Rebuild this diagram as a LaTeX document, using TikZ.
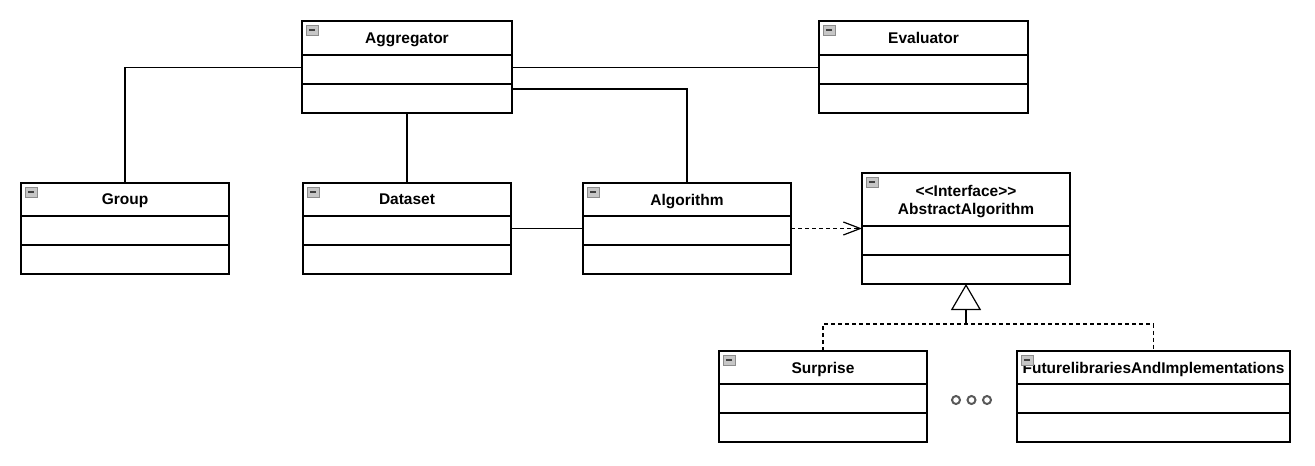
\documentclass[tikz,border=0pt]{standalone}
\usepackage{fontspec}
\setmainfont{Liberation Sans}
\usetikzlibrary{positioning,arrows.meta,calc}

\tikzset{
	classhead/.style={draw, line width=1.2pt, inner sep=0pt, outer sep=0pt, align=center, text depth=0pt,
		font=\fontsize{15.5}{18}\selectfont\bfseries},
	classpart/.style={draw, line width=1.2pt, inner sep=0pt, outer sep=0pt, minimum height=29pt},
	classicon/.style={draw=gray!90, fill=gray!45, line width=0.9pt},
	assoc/.style={line width=1.2pt},
	realize/.style={line width=1.2pt, dash pattern=on 4pt off 3pt},
	depend/.style={realize, -{Straight Barb[length=17pt, width=13pt, line width=1.2pt]}},
	moredots/.style={draw=black!65, line width=2pt}
}

\begin{document}
\begin{tikzpicture}[x=1pt, y=-1pt]
	\useasboundingbox (0,0) rectangle (1315,466);
	\newcommand{\CLASS}[5]{%
		\node[classhead, minimum width=#3, minimum height=#4, anchor=north west] (#1) at (#2) {#5};
		\node[classpart, minimum width=#3, below=0pt of #1] (#1-a) {};
		\node[classpart, minimum width=#3, below=0pt of #1-a] (#1-m) {};
		\draw[classicon] ($(#1.north west)+(4,4)$) rectangle +(12,10);
		\draw[line width=1.2pt, black!75] ($(#1.north west)+(7,9)$) -- +(6,0);
	}
	\CLASS{agg}{302,21}{210pt}{34pt}{Aggregator}
	\CLASS{eva}{819,21}{209pt}{34pt}{Evaluator}
	\CLASS{grp}{21,183}{208pt}{33pt}{Group}
	\CLASS{dat}{303,183}{208pt}{33pt}{Dataset}
	\CLASS{alg}{583,183}{208pt}{33pt}{Algorithm}
	\CLASS{abs}{862,173}{208pt}{53pt}{<\kern0pt<Interface>\kern0pt>\\AbstractAlgorithm}
	\CLASS{sur}{719,351}{208pt}{33pt}{Surprise}
	\CLASS{fut}{1017,351}{273pt}{33pt}{FuturelibrariesAndImplementations}
	% associations
	\coordinate (aggalg) at ($(agg-m.north east)+(0,5)$);
	\draw[assoc] ([yshift=2pt]agg-a.west) -| (grp.north);
	\draw[assoc] ([yshift=2pt]agg-a.east) -- ([yshift=2pt]eva-a.west);
	\draw[assoc] (agg-m.south) -- (dat.north);
	\draw[assoc] (aggalg) -| (alg.north);
	\draw[assoc] ([yshift=2pt]dat-a.east) -- ([yshift=2pt]alg-a.west);
	% dependency and realization
	\draw[depend] ([yshift=2pt]alg-a.east) -- ([yshift=2pt]alg-a.east -| abs-a.west);
	\coordinate (split) at ($(abs-m.south)+(0,40)$);
	\draw[line width=1.2pt, -{Triangle[open, length=26pt, width=30pt, line width=1.2pt]}] (split) -- (abs-m.south);
	\draw[realize] (sur.north) |- (split) -| (fut.north);
	% more implementations
	\foreach \i in {0,1,2}
		\draw[moredots] (956+15.5*\i, 400) circle (4pt);
\end{tikzpicture}
\end{document}
